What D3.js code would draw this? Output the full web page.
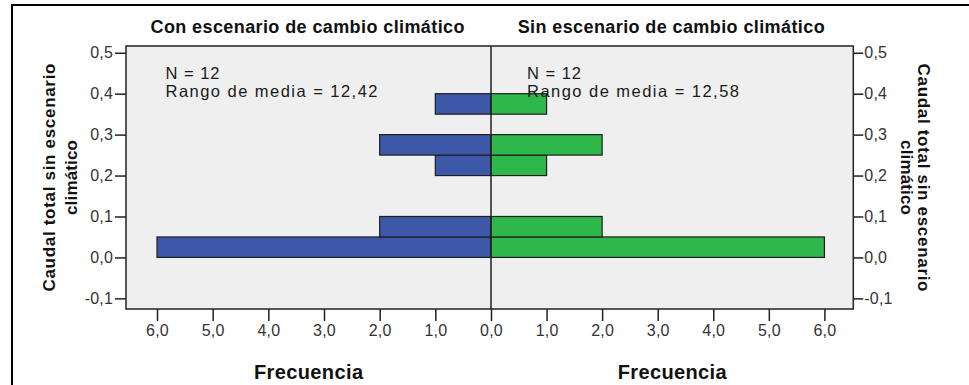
<!DOCTYPE html>
<html>
<head>
<meta charset="utf-8">
<script src="https://cdn.jsdelivr.net/npm/d3@7"></script>
<style>
  html, body { margin: 0; padding: 0; background: #ffffff; }
  svg { display: block; font-family: "Liberation Sans", Arial, sans-serif; }
</style>
</head>
<body>
<svg id="chart" width="969" height="385"></svg>
<script>
// Histogram bins (lower edge, width 0.05) of "Caudal total sin escenario climático"
const binLower = [0.00, 0.05, 0.10, 0.15, 0.20, 0.25, 0.30, 0.35, 0.40, 0.45];
const binWidth = 0.05;
// Frequencies per bin for each group
const conCounts = [6, 2, 0, 0, 1, 2, 0, 1, 0, 0];
const sinCounts = [6, 2, 0, 0, 1, 2, 0, 1, 0, 0];
// Panel titles and annotations
const panelTitles = ["Con escenario de cambio climático", "Sin escenario de cambio climático"];
const panelN = ["N = 12", "N = 12"];
const panelRango = ["Rango de media = 12,42", "Rango de media = 12,58"];
const yTicks = [-0.1, 0.0, 0.1, 0.2, 0.3, 0.4, 0.5];
const xTicks = [0, 1, 2, 3, 4, 5, 6];
const yTitle = ["Caudal total sin escenario", "climático"];
const xTitle = "Frecuencia";

const svg = d3.select("#chart");
const fmt1 = v => d3.format(".1f")(v).replace(".", ",").replace("−", "-");

const plotTop = 46, plotBottom = 309, plotLeft = 126, plotMid = 491, plotRight = 853.3;

const y = d3.scaleLinear().domain([-0.126, 0.5165]).range([plotBottom, plotTop]);
const xL = d3.scaleLinear().domain([0, 6.557]).range([plotMid, plotLeft]);
const xR = d3.scaleLinear().domain([0, 6.52]).range([plotMid, plotRight]);

// Outer frame
svg.append("path")
  .attr("d", "M12,390 L12,5 L975,5")
  .attr("fill", "none").attr("stroke", "#000").attr("stroke-width", 2);

// Plot background
svg.append("rect")
  .attr("x", plotLeft).attr("y", plotTop)
  .attr("width", plotRight - plotLeft).attr("height", plotBottom - plotTop)
  .attr("fill", "#efefef");

// Bars
const rows = binLower.map((b, i) => ({ lo: b, hi: b + binWidth, con: conCounts[i], sin: sinCounts[i] }));

svg.append("g").selectAll("rect")
  .data(rows.filter(d => d.con > 0))
  .join("rect")
  .attr("x", d => xL(d.con))
  .attr("y", d => y(d.hi))
  .attr("width", d => xL(0) - xL(d.con))
  .attr("height", d => y(d.lo) - y(d.hi))
  .attr("fill", "#3e58a9")
  .attr("stroke", "#1e1e1e").attr("stroke-width", 1.2);

svg.append("g").selectAll("rect")
  .data(rows.filter(d => d.sin > 0))
  .join("rect")
  .attr("x", xR(0))
  .attr("y", d => y(d.hi))
  .attr("width", d => xR(d.sin) - xR(0))
  .attr("height", d => y(d.lo) - y(d.hi))
  .attr("fill", "#2eb84b")
  .attr("stroke", "#1e1e1e").attr("stroke-width", 1.2);

// Plot border and centre divider
svg.append("rect")
  .attr("x", plotLeft).attr("y", plotTop)
  .attr("width", plotRight - plotLeft).attr("height", plotBottom - plotTop)
  .attr("fill", "none").attr("stroke", "#222").attr("stroke-width", 1.5);
svg.append("line")
  .attr("x1", plotMid).attr("x2", plotMid).attr("y1", plotTop).attr("y2", plotBottom)
  .attr("stroke", "#222").attr("stroke-width", 1.5);

function styleAxis(g) {
  g.select(".domain").remove();
  g.selectAll(".tick line").attr("stroke", "#222").attr("stroke-width", 1.5);
  g.selectAll(".tick text")
    .attr("fill", "#333")
    .style("font-size", "16px")
    .style("letter-spacing", "0.2px");
}

// Y axes
svg.append("g").attr("transform", `translate(${plotLeft},0)`)
  .call(d3.axisLeft(y).tickValues(yTicks).tickFormat(fmt1).tickSize(11).tickPadding(2))
  .call(styleAxis);
svg.append("g").attr("transform", `translate(${plotRight},0)`)
  .call(d3.axisRight(y).tickValues(yTicks).tickFormat(fmt1).tickSize(10).tickPadding(1))
  .call(styleAxis);

// X axes
svg.append("g").attr("transform", `translate(0,${plotBottom})`)
  .call(d3.axisBottom(xL).tickValues(xTicks).tickFormat(fmt1).tickSize(12).tickPadding(4))
  .call(styleAxis);
svg.append("g").attr("transform", `translate(0,${plotBottom})`)
  .call(d3.axisBottom(xR).tickValues(xTicks.filter(v => v > 0)).tickFormat(fmt1).tickSize(12).tickPadding(4))
  .call(styleAxis);

// Panel titles
const centers = [(plotLeft + plotMid) / 2, (plotMid + plotRight) / 2];
const titleLen = [314, 307];
panelTitles.forEach((t, i) => {
  svg.append("text")
    .attr("x", centers[i] - 1).attr("y", 33)
    .attr("text-anchor", "middle")
    .attr("textLength", titleLen[i]).attr("lengthAdjust", "spacing")
    .style("font-size", "18px").style("font-weight", "bold").attr("fill", "#111")
    .text(t);
});

// Annotations
const annX = [165.5, 527];
panelN.forEach((t, i) => {
  svg.append("text")
    .attr("x", annX[i]).attr("y", 78.5)
    .attr("textLength", 54).attr("lengthAdjust", "spacing")
    .style("font-size", "16.5px").attr("fill", "#1a1a1a")
    .text(t);
  svg.append("text")
    .attr("x", annX[i]).attr("y", 97)
    .attr("textLength", 212).attr("lengthAdjust", "spacing")
    .style("font-size", "16.5px").attr("fill", "#1a1a1a")
    .text(panelRango[i]);
});

// X axis titles
centers.forEach(cx => {
  svg.append("text")
    .attr("x", cx).attr("y", 379)
    .attr("text-anchor", "middle")
    .attr("textLength", 109).attr("lengthAdjust", "spacing")
    .style("font-size", "20px").style("font-weight", "bold").attr("fill", "#111")
    .text(xTitle);
});

// Y axis titles (left reads upward, right reads downward)
const yc = (plotTop + plotBottom) / 2;
const leftBase = [55, 77];
const rightBase = [918, 901];
const titleLens = [228, 75];
yTitle.forEach((t, i) => {
  svg.append("text")
    .attr("transform", `translate(${leftBase[i]},${yc}) rotate(-90)`)
    .attr("text-anchor", "middle")
    .attr("textLength", titleLens[i]).attr("lengthAdjust", "spacing")
    .style("font-size", "17px").style("font-weight", "bold").attr("fill", "#111")
    .text(t);
  svg.append("text")
    .attr("transform", `translate(${rightBase[i]},${yc}) rotate(90)`)
    .attr("text-anchor", "middle")
    .attr("textLength", titleLens[i]).attr("lengthAdjust", "spacing")
    .style("font-size", "17px").style("font-weight", "bold").attr("fill", "#111")
    .text(t);
});
</script>
</body>
</html>
